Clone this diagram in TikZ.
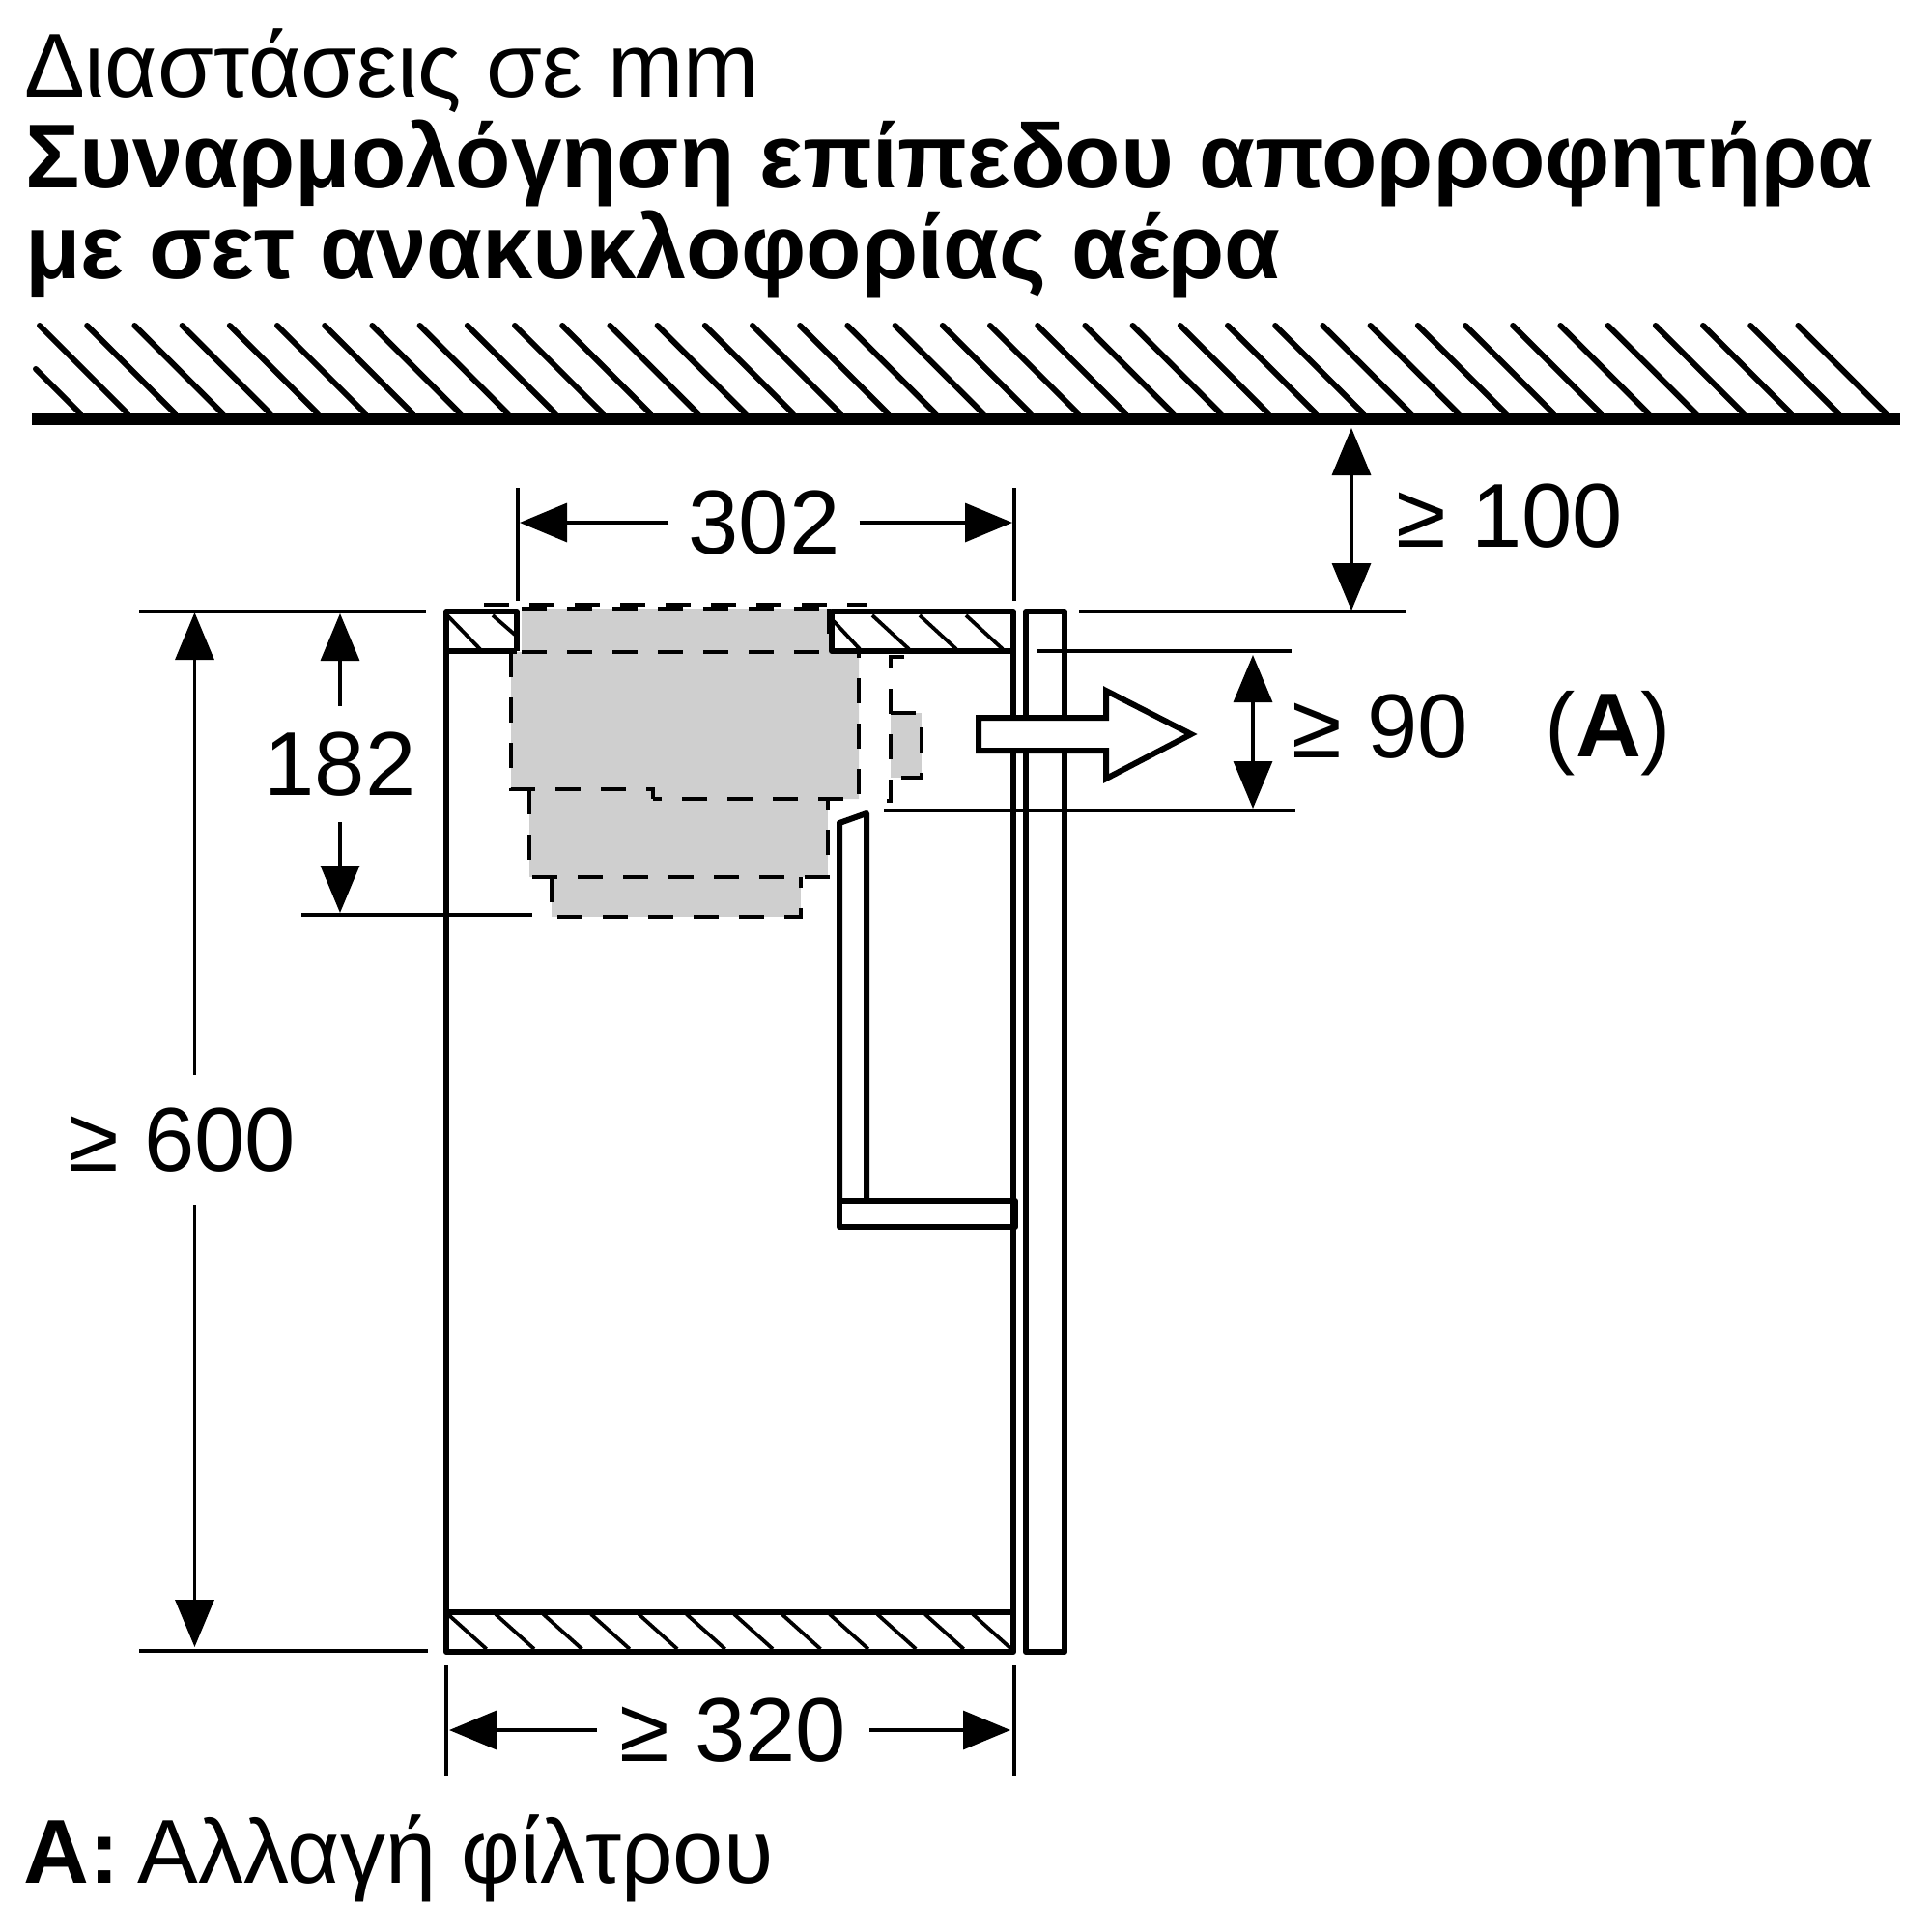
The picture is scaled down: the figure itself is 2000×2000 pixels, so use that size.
\documentclass[tikz,border=0pt]{standalone}
\usepackage{fontspec}
\setmainfont{Liberation Sans}
\usetikzlibrary{arrows.meta}
\definecolor{filtergray}{HTML}{CFCFCF}
\newcommand{\labelsize}{\fontsize{94}{106}\selectfont}
\tikzset{
  wall/.style={line width=6pt, line join=round},
  thinhatch/.style={line width=3.8pt},
  ceilhatch/.style={line width=6pt, line cap=round},
  hiddenedge/.style={line width=4pt, dash pattern=on 26pt off 21pt},
  blockfill/.style={fill=filtergray, draw=none},
  dimline/.style={line width=3.4pt},
  dimtip/.tip={Triangle[length=49pt, width=40pt]},
  dimlabel/.style={font=\labelsize, inner xsep=20pt, inner ysep=27pt},
  textline/.style={font=\labelsize, anchor=base west, inner sep=0pt},
}
\begin{document}
\begin{tikzpicture}[x=1pt, y=-1pt]
      \useasboundingbox (0,0) rectangle (2000,2000);
      \node[textline] (dimnote) at (25,100) {Διαστάσεις σε mm};
      \node[textline, font=\labelsize\bfseries] (titlea) at (26,194) {Συναρμολόγηση επίπεδου απορροφητήρα};
      \node[textline, font=\labelsize\bfseries] (titleb) at (26,288) {με σετ ανακυκλοφορίας αέρα};
      \node[textline] (filternote) at (24,1949) {\textbf{A:}\hspace*{-7pt} Αλλαγή φίλτρου};
      \foreach \n in {0,...,37} \draw[ceilhatch] ({41+49.2*\n},337) -- ++(91,91);
      \draw[ceilhatch] (37,382) -- (83,428);
      \fill (33,428) rectangle (1967,440);
      \fill[blockfill] (540,630) rectangle (858,675);
      \fill[blockfill] (529,675) -- (889,675) -- (889,827) -- (676,827) -- (676,817) -- (529,817) -- cycle;
      \fill[blockfill] (548,817) rectangle (857,908);
      \fill[blockfill] (571,908) rectangle (829,949);
      \fill[blockfill] (922,738) rectangle (954,805);
      \draw[thinhatch] (463,637) -- (497,672);
      \draw[thinhatch] (510,637) -- (533,657);
      \draw[thinhatch] (863,643) -- (890,672);
      \foreach \xa in {903,952,1000} \draw[thinhatch] (\xa,637) -- ++(38,35);
      \foreach \n in {0,...,11} \draw[thinhatch] ({463.6+49.4*\n},1671) -- ++(40,36);
      \draw[wall] (535,674) -- (535,633) -- (462,633) -- (462,1710) -- (1049,1710) -- (1049,633) -- (861,633) -- (861,674) -- (1049,674);
      \draw[wall] (462,674) -- (535,674);
      \draw[wall] (462,1669) -- (1049,1669);
      \draw[wall] (1062,633) rectangle (1102,1710);
      \draw[wall] (869,1243) -- (869,852) -- (897,842) -- (897,1243);
      \draw[wall] (869,1243) rectangle (1051,1270);
      \draw[hiddenedge] (501,626) -- (897,626);
      \draw[hiddenedge] (540,630) -- (858,630);
      \draw[hiddenedge] (858,630) -- (858,675);
      \draw[hiddenedge] (540,675) -- (889,675) -- (889,827) -- (676,827);
      \draw[hiddenedge] (529,675) -- (529,817) -- (676,817) -- (676,827);
      \draw[hiddenedge] (548,817) -- (548,908) -- (857,908) -- (857,827);
      \draw[hiddenedge] (571,908) -- (571,949) -- (829,949) -- (829,908);
      \draw[hiddenedge] (936,680) -- (922,680) -- (922,829) -- (901,829);
      \draw[hiddenedge] (922,738) -- (954,738) -- (954,805) -- (922,805);
      \draw[wall, fill=white, line join=miter] (1013,743) -- (1145,743) -- (1145,715) -- (1233,760) -- (1145,806) -- (1145,777) -- (1013,777) -- cycle;
      \draw[dimline] (536,505) -- (536,622);
      \draw[dimline] (1050,505) -- (1050,622);
      \draw[dimline] (144,633) -- (441,633);
      \draw[dimline] (144,1709) -- (443,1709);
      \draw[dimline] (312,947) -- (551,947);
      \draw[dimline] (1117,633) -- (1455,633);
      \draw[dimline] (1073,674) -- (1337,674);
      \draw[dimline] (915,839) -- (1341,839);
      \draw[dimline] (462,1724) -- (462,1838);
      \draw[dimline] (1050,1724) -- (1050,1838);
      \node[dimlabel] (len302) at (791,541) {302};
      \node[dimlabel] (len182) at (352,791) {182};
      \node[dimlabel, inner ysep=34pt] (len600) at (189,1180) {≥ 600};
      \node[dimlabel, inner xsep=24pt] (len320) at (759,1791) {≥ 320};
      \node[dimlabel] (len100) at (1563,534) {≥ 100};
      \node[dimlabel] (len90) at (1429,752) {≥ 90};
      \node[dimlabel] (markA) at (1665,759) {(\textbf{A})};
      \coordinate (tip302l) at (538,541);
      \coordinate (tip302r) at (1048,541);
      \coordinate (tip182t) at (352,635);
      \coordinate (tip182b) at (352,945);
      \coordinate (tip600t) at (201.5,634);
      \coordinate (tip600b) at (201.5,1705);
      \coordinate (tip320l) at (465,1791);
      \coordinate (tip320r) at (1046,1791);
      \coordinate (tip100t) at (1399,443);
      \coordinate (tip100b) at (1399,632);
      \coordinate (tip90t) at (1297,678);
      \coordinate (tip90b) at (1297,837);
      \draw[dimline, -dimtip] (len302) -- (tip302l);
      \draw[dimline, -dimtip] (len302) -- (tip302r);
      \draw[dimline, -dimtip] (len182) -- (tip182t);
      \draw[dimline, -dimtip] (len182) -- (tip182b);
      \draw[dimline, -dimtip] (tip600t |- len600.north) -- (tip600t);
      \draw[dimline, -dimtip] (tip600b |- len600.south) -- (tip600b);
      \draw[dimline, -dimtip] (len320) -- (tip320l);
      \draw[dimline, -dimtip] (len320) -- (tip320r);
      \draw[dimline, dimtip-dimtip] (tip100t) -- (tip100b);
      \draw[dimline, dimtip-dimtip] (tip90t) -- (tip90b);
    \end{tikzpicture}
\end{document}
